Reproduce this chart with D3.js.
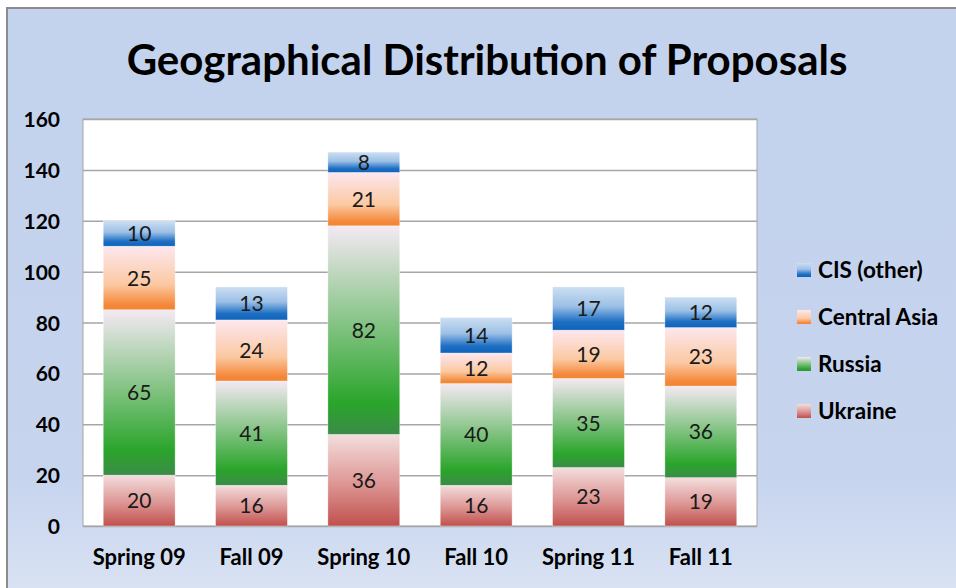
<!DOCTYPE html>
<html lang="en">
<head>
<meta charset="utf-8"/>
<title>Geographical Distribution of Proposals</title>
<style>
  * { margin: 0; padding: 0; }
  body { width: 956px; height: 588px; overflow: hidden; background: #fff; }
  svg { display: block; }
  text { font-family: Lato, "Open Sans", sans-serif; }
  .grid line { stroke: #a6a6a6; stroke-width: 1.5; }
  .grid .domain { display: none; }
  .yaxis text { font-size: 21px; font-weight: 700; fill: #000; }
  .yaxis .domain, .yaxis line { display: none; }
  .xaxis text { font-size: 22px; font-weight: 700; fill: #000; }
  .xaxis .domain, .xaxis line { display: none; }
  text.value { font-size: 21px; fill: #1a1a1a; }
  text.title { font-size: 42px; font-weight: 700; fill: #000; }
  text.legend { font-size: 22.5px; font-weight: 700; fill: #000; }
</style>
<script src="https://d3js.org/d3.v7.min.js"></script>
</head>
<body>
<svg width="956" height="588"></svg>
<script>
// data
const terms = ['Spring 09', 'Fall 09', 'Spring 10', 'Fall 10', 'Spring 11', 'Fall 11'];
const ukraine = [20, 16, 36, 16, 23, 19];
const russia = [65, 41, 82, 40, 35, 36];
const centralAsia = [25, 24, 21, 12, 19, 23];
const cisOther = [10, 13, 8, 14, 17, 12];
const seriesNames = ['Ukraine', 'Russia', 'Central Asia', 'CIS (other)'];
const yTicks = [0, 20, 40, 60, 80, 100, 120, 140, 160];

const seriesValues = [ukraine, russia, centralAsia, cisOther];
// vertical gradient stops for each series (top -> bottom)
const gradStops = [
  [[0, '#f3dedd'], [0.55, '#dc9593'], [1, '#c0504d']],
  [[0, '#f4e9f3'], [0.85, '#2aa52b'], [1, '#3b8b47']],
  [[0, '#fde7ef'], [0.6, '#fbc9a2'], [0.92, '#f5883a'], [1, '#f08530']],
  [[0, '#cddff2'], [0.45, '#9cc0e6'], [0.8, '#1f70c4'], [1, '#0c63ba']]
];

const W = 956, H = 588;
const plot = { left: 83, top: 119, right: 757, bottom: 526 };

const svg = d3.select('svg');
const defs = svg.append('defs');

// background gradient
const bg = defs.append('linearGradient').attr('id', 'bg')
  .attr('x1', 0).attr('y1', 0).attr('x2', 0).attr('y2', 1);
bg.append('stop').attr('offset', 0).attr('stop-color', '#c3d2ed');
bg.append('stop').attr('offset', 0.8).attr('stop-color', '#c6d4ee');
bg.append('stop').attr('offset', 1).attr('stop-color', '#dae3f3');

gradStops.forEach((stops, i) => {
  const g = defs.append('linearGradient').attr('id', 'g' + i)
    .attr('x1', 0).attr('y1', 0).attr('x2', 0).attr('y2', 1);
  stops.forEach(s => g.append('stop').attr('offset', s[0]).attr('stop-color', s[1]));
});

svg.append('rect').attr('x', 0).attr('y', 0).attr('width', W).attr('height', H).attr('fill', '#fff');
svg.append('rect').attr('x', 7).attr('y', 8).attr('width', W).attr('height', H)
  .attr('fill', 'url(#bg)').attr('stroke', '#8c8c8c').attr('stroke-width', 2);

svg.append('text').attr('class', 'title')
  .attr('x', 487).attr('y', 75).attr('text-anchor', 'middle')
  .text('Geographical Distribution of Proposals');

// plot area
svg.append('rect')
  .attr('x', plot.left).attr('y', plot.top)
  .attr('width', plot.right - plot.left).attr('height', plot.bottom - plot.top)
  .attr('fill', '#fff').attr('stroke', '#a6a6a6').attr('stroke-width', 1);

const x = d3.scaleBand().domain(terms).range([plot.left, plot.right]).paddingInner(0.36).paddingOuter(0.18);
const y = d3.scaleLinear().domain([0, 160]).range([plot.bottom, plot.top]);

svg.append('g').attr('class', 'grid')
  .attr('transform', `translate(${plot.left},0)`)
  .call(d3.axisLeft(y).tickValues(yTicks).tickSize(-(plot.right - plot.left)).tickFormat(''));

svg.append('g').attr('class', 'yaxis')
  .attr('transform', `translate(${plot.left - 20},0)`)
  .call(d3.axisLeft(y).tickValues(yTicks).tickSize(0))
  .selectAll('text').attr('dy', '0.36em');

svg.append('g').attr('class', 'xaxis')
  .attr('transform', `translate(0,${plot.bottom + 18})`)
  .call(d3.axisBottom(x).tickSize(0))
  .selectAll('text').attr('dy', '0.8em');

// stacked bars
const rows = terms.map((t, i) => {
  const r = { term: t };
  seriesNames.forEach((n, j) => r[n] = seriesValues[j][i]);
  return r;
});
const stacked = d3.stack().keys(seriesNames)(rows);

const layers = svg.append('g').selectAll('g')
  .data(stacked).join('g')
  .attr('fill', (d, i) => `url(#g${i})`);

layers.selectAll('rect')
  .data(d => d).join('rect')
  .attr('x', d => x(d.data.term))
  .attr('y', d => y(d[1]))
  .attr('width', x.bandwidth())
  .attr('height', d => y(d[0]) - y(d[1]))
  .attr('stroke', '#ffffff').attr('stroke-opacity', 0.6).attr('stroke-width', 0.6);

layers.selectAll('text')
  .data(d => d).join('text')
  .attr('class', 'value')
  .attr('x', d => x(d.data.term) + x.bandwidth() / 2)
  .attr('y', d => (y(d[0]) + y(d[1])) / 2)
  .attr('dy', '0.36em')
  .attr('text-anchor', 'middle')
  .text(d => d[1] - d[0]);

// legend, top entry is the last series
const legendY = d3.scalePoint().domain(seriesNames.slice().reverse()).range([270, 411]);
const legend = svg.append('g').selectAll('g')
  .data(seriesNames).join('g')
  .attr('transform', d => `translate(797,${legendY(d)})`);
legend.append('rect')
  .attr('x', 0).attr('y', -7).attr('width', 14).attr('height', 14)
  .attr('fill', (d, i) => `url(#g${i})`);
legend.append('text').attr('class', 'legend')
  .attr('x', 21).attr('y', 0).attr('dy', '0.36em')
  .text(d => d);
</script>
</body>
</html>
